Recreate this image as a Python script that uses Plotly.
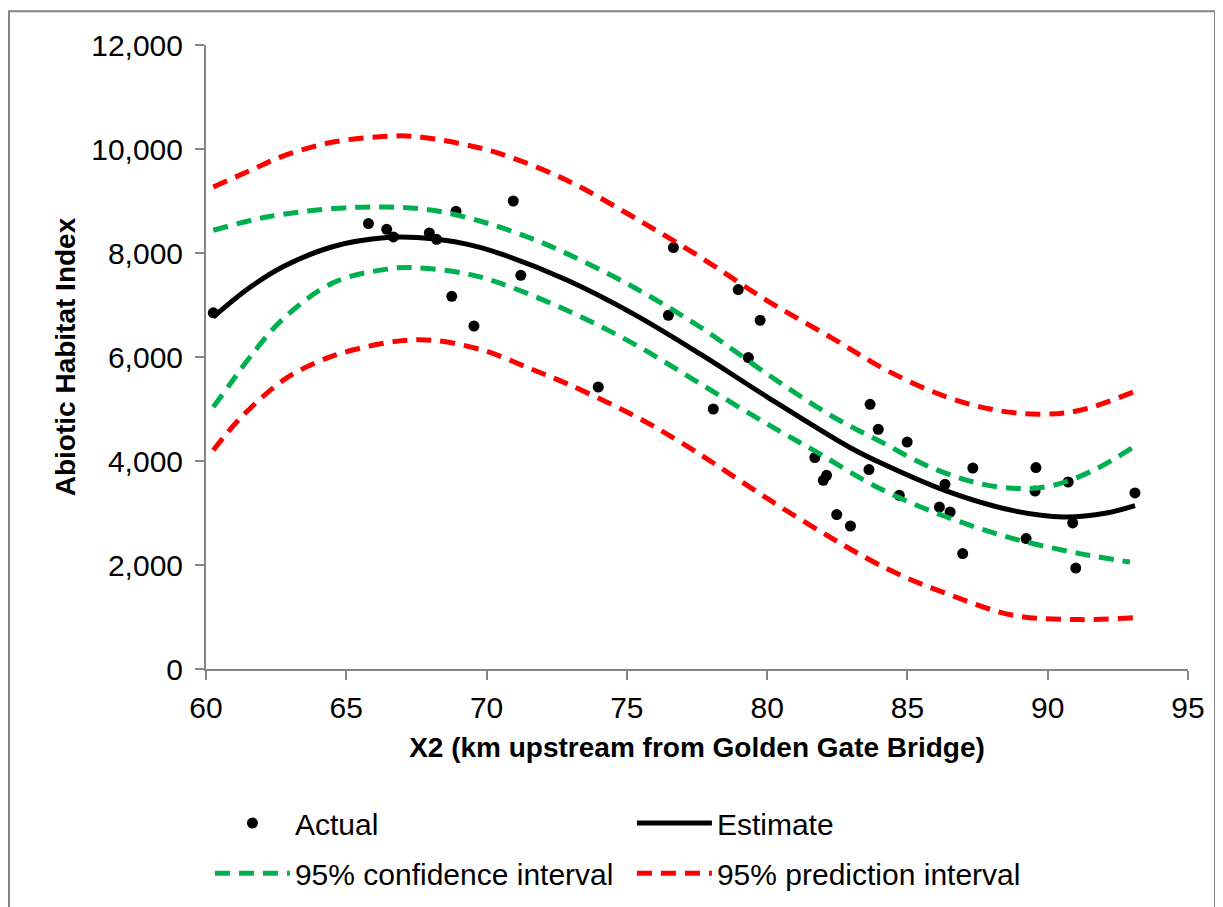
import plotly.graph_objects as go

# ---- data ----
actual_x = [60.26, 65.79, 66.44, 66.68, 67.96, 68.22, 68.91, 68.76, 69.55, 70.95,
            71.22, 73.98, 76.48, 76.66, 78.08, 78.97, 79.33, 79.75, 81.70, 82.00,
            82.12, 82.48, 82.97, 83.63, 83.67, 83.96, 84.71, 84.99, 86.14, 86.34,
            86.52, 86.97, 87.33, 89.23, 89.55, 89.58, 90.73, 90.89, 91.00, 93.11]
actual_y = [6850, 8565, 8456, 8308, 8385, 8263, 8802, 7167, 6596, 9000,
            7571, 5423, 6802, 8104, 5000, 7296, 5988, 6706, 4065, 3629,
            3725, 2969, 2750, 3835, 5090, 4610, 3340, 4365, 3115, 3552,
            3019, 2219, 3865, 2508, 3423, 3873, 3596, 2808, 1942, 3385]

est_x = [60.26, 61.57, 62.76, 64.54, 66.44, 67.51, 69.29, 70.48, 72.86, 75.23,
         77.61, 79.98, 82.95, 84.02, 86.40, 88.77, 90.56, 92.10, 93.11]
est_y = [6769, 7340, 7740, 8125, 8296, 8296, 8170, 7988, 7480, 6830,
         6060, 5240, 4260, 3970, 3420, 3045, 2925, 3000, 3140]

ci_up_x = [60.26, 62.16, 64.54, 66.44, 68.10, 69.88, 71.55, 72.86, 75.23, 77.61,
           79.98, 82.36, 84.02, 85.80, 87.59, 89.01, 90.20, 91.63, 93.05]
ci_up_y = [8437, 8692, 8854, 8885, 8821, 8596, 8290, 7988, 7346, 6577,
           5681, 4846, 4380, 3885, 3565, 3469, 3533, 3821, 4269]

ci_lo_x = [60.26, 60.86, 61.57, 62.76, 64.54, 66.44, 67.39, 69.29, 70.48, 72.86,
           75.23, 77.61, 79.98, 81.77, 84.02, 86.40, 88.77, 91.15, 92.93]
ci_lo_y = [5040, 5480, 6000, 6740, 7430, 7690, 7720, 7600, 7420, 6898,
           6258, 5488, 4719, 4170, 3469, 2923, 2508, 2219, 2058]

pi_up_x = [60.26, 61.57, 62.88, 64.54, 66.44, 67.39, 69.05, 70.48, 72.86, 75.23,
           77.61, 79.98, 82.36, 84.26, 86.40, 88.18, 89.73, 91.15, 93.05]
pi_up_y = [9269, 9587, 9890, 10135, 10244, 10244, 10104, 9911, 9398, 8692,
           7923, 7090, 6350, 5744, 5231, 4975, 4898, 4975, 5327]

pi_lo_x = [60.26, 61.21, 62.76, 63.95, 65.13, 66.91, 68.10, 69.88, 71.55, 72.86,
           75.23, 77.01, 81.05, 84.26, 86.40, 88.77, 91.15, 93.05]
pi_lo_y = [4206, 4816, 5555, 5900, 6120, 6310, 6321, 6129, 5777, 5488,
           4880, 4330, 2923, 1931, 1450, 1033, 950, 988]

x_ticks = [60, 65, 70, 75, 80, 85, 90, 95]
y_ticks = [0, 2000, 4000, 6000, 8000, 10000, 12000]

GREEN = "#00B050"
RED = "#FF0000"
AXIS = "#868686"
FONT = "Arial, Liberation Sans, sans-serif"
DASH = "15px,9px"
LW = 5

fig = go.Figure()
fig.add_trace(go.Scatter(x=actual_x, y=actual_y, mode="markers", name="Actual",
                         legend="legend",
                         marker=dict(color="black", size=11)))
fig.add_trace(go.Scatter(x=est_x, y=est_y, mode="lines", name="Estimate",
                         legend="legend",
                         line=dict(color="black", width=LW, shape="spline")))
fig.add_trace(go.Scatter(x=ci_up_x, y=ci_up_y, mode="lines", name="95% confidence interval",
                         legend="legend2", legendgroup="ci",
                         line=dict(color=GREEN, width=LW, dash=DASH, shape="spline")))
fig.add_trace(go.Scatter(x=pi_up_x, y=pi_up_y, mode="lines", name="95% prediction interval",
                         legend="legend2", legendgroup="pi",
                         line=dict(color=RED, width=LW, dash=DASH, shape="spline")))
fig.add_trace(go.Scatter(x=ci_lo_x, y=ci_lo_y, mode="lines", showlegend=False,
                         legend="legend2", legendgroup="ci",
                         line=dict(color=GREEN, width=LW, dash=DASH, shape="spline")))
fig.add_trace(go.Scatter(x=pi_lo_x, y=pi_lo_y, mode="lines", showlegend=False,
                         legend="legend2", legendgroup="pi",
                         line=dict(color=RED, width=LW, dash=DASH, shape="spline")))

legend_common = dict(orientation="h", xanchor="left", yanchor="top",
                     entrywidth=332, entrywidthmode="pixels", itemwidth=75,
                     font=dict(size=30, family=FONT, color="black"),
                     traceorder="normal", bgcolor="rgba(0,0,0,0)")

# The page adds an 8px body margin, so the figure is 8px smaller than the window.
fig.update_layout(
    width=1215, height=899,
    margin=dict(l=198, r=35, t=37, b=238, autoexpand=False),
    paper_bgcolor="white", plot_bgcolor="white",
    font=dict(family=FONT, size=28, color="black"),
    showlegend=True,
    legend=dict(x=0.004, y=-0.2053, **legend_common),
    legend2=dict(x=0.004, y=-0.2855, **legend_common),
    shapes=[dict(type="rect", xref="paper", yref="paper",
                 x0=-0.2006, x1=1.0275, y0=-0.40, y1=1.054,
                 line=dict(color=AXIS, width=2), fillcolor="rgba(0,0,0,0)", layer="below")],
)
fig.update_xaxes(range=[60, 95], tickvals=x_ticks, showgrid=False, zeroline=False,
                 showline=True, linecolor=AXIS, linewidth=2,
                 ticks="outside", ticklen=9, tickwidth=2, tickcolor=AXIS,
                 tickfont=dict(size=30, family=FONT), ticklabelstandoff=2,
                 title=dict(text="<b>X2 (km upstream from Golden Gate Bridge)</b>",
                            font=dict(size=28, family=FONT), standoff=14))
fig.update_yaxes(range=[0, 12000], tickvals=y_ticks, tickformat=",d",
                 showgrid=False, zeroline=False,
                 showline=True, linecolor=AXIS, linewidth=2,
                 ticks="outside", ticklen=9, tickwidth=2, tickcolor=AXIS,
                 tickfont=dict(size=30, family=FONT), ticklabelstandoff=6,
                 title=dict(text="<b>Abiotic Habitat Index</b>",
                            font=dict(size=28, family=FONT), standoff=7))

fig.write_html("out.html")
